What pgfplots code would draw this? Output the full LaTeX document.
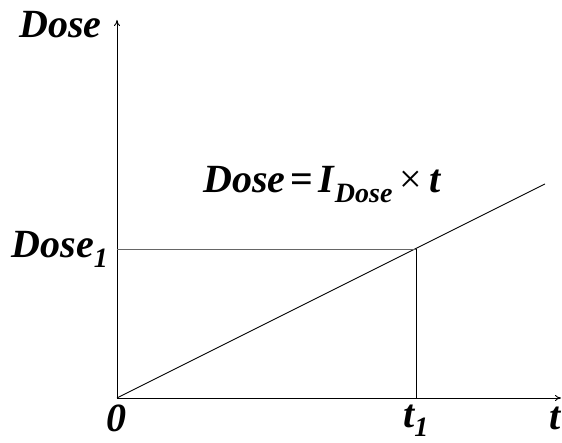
\documentclass[border=0pt]{standalone}
\usepackage{fontspec}
\setmainfont{Liberation Serif}
\usepackage{pgfplots}
\pgfplotsset{compat=1.18}
\usetikzlibrary{arrows.meta}

\newcommand{\bi}[1]{\textbf{\textit{#1}}}

\begin{document}
\begin{tikzpicture}
\begin{axis}[
    scale only axis,
    width=444pt, height=378pt,
    xmin=0, xmax=444, ymin=0, ymax=378,
    axis lines=left,
    axis line style={line width=0.9pt, -{To[length=6pt,width=6pt]}},
    major tick length=0pt,
    xtick={0,299}, xticklabels={0, t\textsubscript{1}},
    ytick={149}, yticklabels={Dose\textsubscript{1}},
    ticklabel style={font=\fontsize{40}{42}\selectfont\bfseries\itshape},
    xticklabel style={yshift=-3pt},
    yticklabel style={xshift=-5pt},
    clip=false,
]
% dose grows linearly with time
\addplot[black, line width=0.9pt] coordinates {(0,0) (428,214)};
% Dose_1 / t_1 guide lines
\addplot[black!60, line width=0.9pt] coordinates {(0,149) (299,149)};
\addplot[black, line width=0.9pt] coordinates {(299,0) (299,149)};

\node[anchor=base west, inner sep=0pt, font=\fontsize{40}{42}\selectfont] at (axis cs:86,205)
    {\bi{Dose}\kern5pt{\bfseries=}\kern5pt\bi{I}\textsubscript{\bi{Dose}}\kern7pt×\kern7pt\bi{t}};
\node[anchor=east, font=\fontsize{40}{42}\selectfont] at (rel axis cs:0,1)
    [xshift=-12pt, yshift=-5pt] {\bi{Dose}};
\node[anchor=north, font=\fontsize{40}{42}\selectfont] at (rel axis cs:1,0)
    [xshift=-5pt, yshift=-5pt] {\bi{t}};
\end{axis}
\pgfresetboundingbox
\path[use as bounding box] (-117pt,-45pt) rectangle (445pt,398pt);
\end{tikzpicture}
\end{document}
